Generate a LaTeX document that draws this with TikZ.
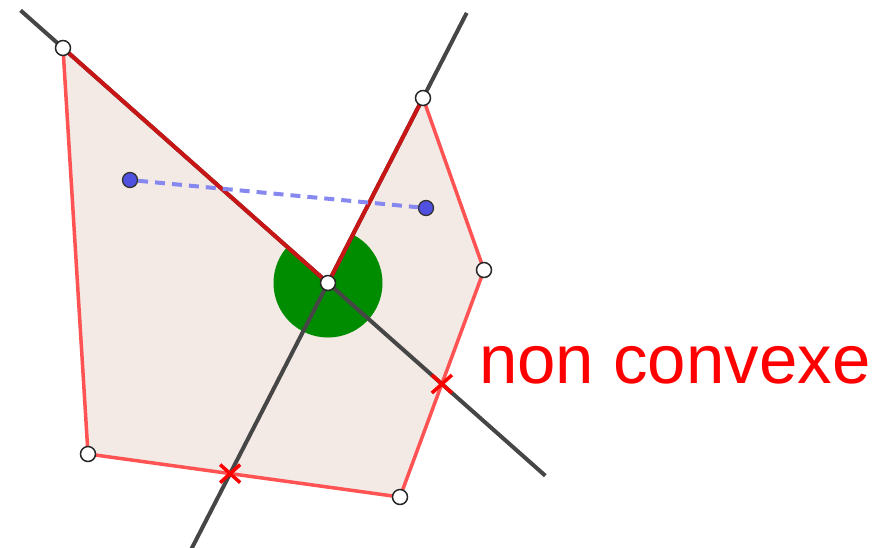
\documentclass[tikz,border=0pt]{standalone}
\usepackage{fontspec}
\setmainfont{Liberation Sans}
\usepackage{tikz}
\usetikzlibrary{calc}

\definecolor{polyfill}{RGB}{243,233,229}
\definecolor{edgered}{RGB}{255,82,82}
\definecolor{darkred}{RGB}{200,22,22}
\definecolor{linegray}{RGB}{70,70,70}
\definecolor{angle}{RGB}{0,140,0}
\definecolor{ptblue}{RGB}{80,80,225}
\definecolor{segblue}{RGB}{135,135,240}

\begin{document}
\begin{tikzpicture}[x=1pt,y=-1pt,
		vertex/.style={circle,draw=black!85,fill=white,line width=1.5pt,minimum size=15pt,inner sep=0pt},
		bluept/.style={circle,draw=black!80,fill=ptblue,line width=1.3pt,minimum size=15pt,inner sep=0pt},
		crossmark/.style={red,line width=3.5pt}]
			\useasboundingbox (0,0) rectangle (872,547);
			\coordinate (A) at (63,48);
			\coordinate (B) at (423,98);
			\coordinate (C) at (484,270);
			\coordinate (D) at (400,497);
			\coordinate (E) at (88,454);
			\coordinate (O) at (328,283);
			% polygon and reflex angle
			\fill[polyfill] (A) -- (O) -- (B) -- (C) -- (D) -- (E) -- cycle;
			\begin{scope}
				\clip (A) -- (O) -- (B) -- (C) -- (D) -- (E) -- cycle;
				\fill[angle] (O) circle (54.5);
			\end{scope}
			\draw[edgered,line width=3.5pt,line join=round] (B) -- (C) -- (D) -- (E) -- (A);
			% the two lines
			\coordinate (l1a) at ($(O)!1.16!(A)$);
			\coordinate (l1b) at ($(O)!-0.82!(A)$);
			\coordinate (l2a) at ($(O)!1.46!(B)$);
			\coordinate (l2b) at ($(O)!-1.45!(B)$);
			\draw[linegray,line width=4pt] (l1a) -- (l1b);
			\draw[linegray,line width=4pt] (l2a) -- (l2b);
			\draw[darkred,line width=4pt,line join=round] (A) -- (O) -- (B);
			% crosses
			\coordinate (X1) at (intersection of O--B and E--D);
			\coordinate (X2) at (intersection of O--A and C--D);
			\foreach \p in {X1,X2}
				\draw[crossmark] ($(\p)+(-10,-9)$) -- ($(\p)+(10,9)$) ($(\p)+(-10,9)$) -- ($(\p)+(10,-9)$);
			% segment between two points
			\node[bluept] (P) at (130,180) {};
			\node[bluept] (Q) at (426,208) {};
			\draw[segblue,line width=4pt,dash pattern=on 10pt off 7pt] (P) -- (Q);
			\foreach \v in {A,B,C,D,E,O}
				\node[vertex] (v\v) at (\v) {};
			\node[red,font=\fontsize{69}{80}\selectfont,anchor=base west,inner sep=0pt] (label) at (479,383) {non convexe};
		\end{tikzpicture}
\end{document}
